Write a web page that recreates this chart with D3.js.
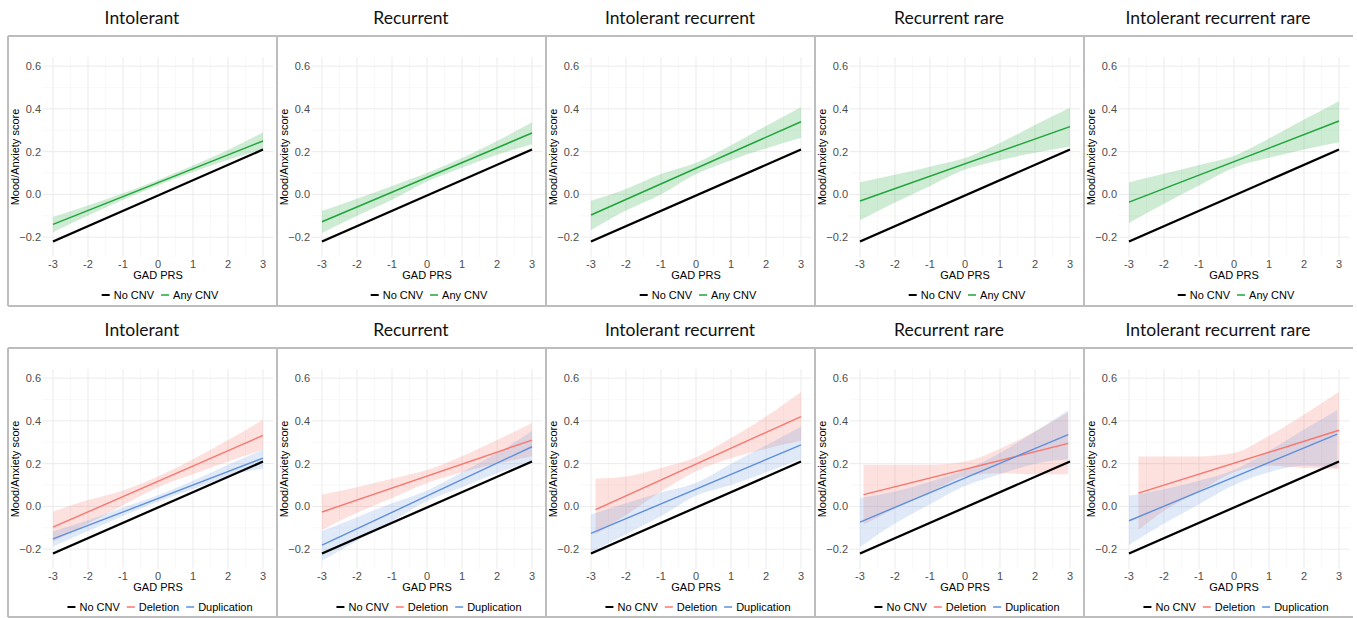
<!DOCTYPE html>
<html>
<head>
<meta charset="utf-8">
<script src="https://cdn.jsdelivr.net/npm/d3@7"></script>
<style>
  body { margin: 0; background: #fff; }
  svg { display: block; }
</style>
</head>
<body>
<div id="chart"></div>
<script>
(function() {
    'use strict';

    // panel titles and axis ticks
    const panelTitles = ["Intolerant", "Recurrent", "Intolerant recurrent", "Recurrent rare", "Intolerant recurrent rare"];
    const xTicks = [-3, -2, -1, 0, 1, 2, 3];
    const yTicks = [-0.2, 0.0, 0.2, 0.4, 0.6];
    const xMinor = [-2.5, -1.5, -0.5, 0.5, 1.5, 2.5];
    const yMinor = [-0.1, 0.1, 0.3, 0.5];

    // No CNV reference line (same in every panel)
    const noCnvX = [-3, 3];
    const noCnvFit = [-0.22, 0.21];
    const noCnvLo = [-0.226, 0.204];
    const noCnvHi = [-0.214, 0.216];

    // x positions where the ribbons were read
    const bandX = [-3, -2, -1, 0, 1, 2, 3];

    // top row: Any CNV
    const anyFit = [[-0.14, 0.25], [-0.128, 0.287], [-0.096, 0.34], [-0.031, 0.317], [-0.036, 0.343]];
    const anyLo = [
        [-0.177, -0.098, -0.025, 0.042, 0.105, 0.162, 0.21],
        [-0.18, -0.10, -0.025, 0.06, 0.125, 0.185, 0.235],
        [-0.166, -0.075, 0.0, 0.095, 0.16, 0.215, 0.265],
        [-0.121, -0.038, 0.04, 0.116, 0.16, 0.195, 0.223],
        [-0.134, -0.043, 0.042, 0.125, 0.171, 0.21, 0.244]
    ];
    const anyHi = [
        [-0.105, -0.052, 0.005, 0.068, 0.135, 0.208, 0.29],
        [-0.078, -0.02, 0.04, 0.10, 0.17, 0.25, 0.338],
        [-0.03, 0.025, 0.095, 0.148, 0.23, 0.32, 0.407],
        [0.057, 0.092, 0.13, 0.17, 0.24, 0.325, 0.405],
        [0.057, 0.097, 0.138, 0.18, 0.261, 0.35, 0.436]
    ];

    // bottom row: Deletion
    const delX = [
        [-3, -2, -1, 0, 1, 2, 3],
        [-3, -2, -1, 0, 1, 2, 3],
        [-2.87, -2, -1, 0, 1, 2, 3],
        [-2.9, -2, -1, 0, 1, 2, 2.95],
        [-2.73, -2, -1, 0, 1, 2, 3]
    ];
    const delFit = [[-0.097, 0.332], [-0.026, 0.31], [-0.015, 0.42], [0.055, 0.295], [0.062, 0.356]];
    const delLo = [
        [-0.164, -0.08, 0.005, 0.09, 0.15, 0.21, 0.265],
        [-0.11, -0.03, 0.04, 0.11, 0.16, 0.2, 0.235],
        [-0.13, -0.04, 0.07, 0.165, 0.225, 0.27, 0.308],
        [-0.086, -0.01, 0.065, 0.14, 0.155, 0.15, 0.15],
        [-0.11, -0.02, 0.07, 0.16, 0.19, 0.18, 0.175]
    ];
    const delHi = [
        [-0.024, 0.03, 0.075, 0.14, 0.22, 0.31, 0.405],
        [0.056, 0.09, 0.13, 0.17, 0.235, 0.31, 0.39],
        [0.13, 0.14, 0.18, 0.23, 0.32, 0.42, 0.535],
        [0.195, 0.195, 0.195, 0.21, 0.27, 0.35, 0.44],
        [0.234, 0.234, 0.234, 0.25, 0.33, 0.43, 0.536]
    ];

    // bottom row: Duplication
    const dupX = [
        [-3, -2, -1, 0, 1, 2, 3],
        [-3, -2, -1, 0, 1, 2, 3],
        [-3, -2, -1, 0, 1, 2, 3],
        [-3, -2, -1, 0, 1, 2, 2.95],
        [-3, -2, -1, 0, 1, 2, 2.95]
    ];
    const dupFit = [[-0.152, 0.226], [-0.181, 0.279], [-0.126, 0.288], [-0.073, 0.336], [-0.067, 0.338]];
    const dupLo = [
        [-0.187, -0.115, -0.045, 0.022, 0.08, 0.14, 0.179],
        [-0.254, -0.16, -0.07, 0.025, 0.09, 0.155, 0.212],
        [-0.215, -0.13, -0.045, 0.05, 0.1, 0.16, 0.22],
        [-0.19, -0.08, 0.01, 0.095, 0.15, 0.2, 0.22],
        [-0.18, -0.08, 0.01, 0.1, 0.16, 0.19, 0.18]
    ];
    const dupHi = [
        [-0.117, -0.065, -0.005, 0.052, 0.12, 0.195, 0.265],
        [-0.115, -0.05, 0.015, 0.075, 0.16, 0.25, 0.351],
        [-0.038, 0.015, 0.065, 0.11, 0.2, 0.285, 0.372],
        [0.04, 0.07, 0.115, 0.17, 0.25, 0.35, 0.45],
        [0.05, 0.08, 0.12, 0.17, 0.26, 0.36, 0.45]
    ];

    const colors = { none: "#000000", any: "#1fa53a", del: "#f8766d", dup: "#5f8fdc" };

    const W = 1357, H = 618;
    const svg = d3.select("#chart").append("svg")
        .attr("width", W).attr("height", H);
    svg.append("rect").attr("width", W).attr("height", H).attr("fill", "#fff");

    const rows = [
        { boxTop: 36, boxBottom: 306, titleY: 24 },
        { boxTop: 348, boxBottom: 617, titleY: 336 }
    ];
    const panelW = 269, firstLeft = 8;
    const axisFont = "'Liberation Sans', Arial, sans-serif";

    function drawPanel(row, col, series, legendItems) {
        const r = rows[row];
        const left = firstLeft + panelW * col;
        const g = svg.append("g");

        // title
        svg.append("text")
            .attr("x", left + 134).attr("y", r.titleY)
            .attr("text-anchor", "middle")
            .style("font-family", "Lato, 'Open Sans', sans-serif")
            .style("font-size", "17.5px")
            .attr("fill", "#111")
            .text(panelTitles[col]);

        // box border (top, bottom, left)
        const border = "#bdbdbd";
        g.append("line").attr("x1", left).attr("x2", left + panelW).attr("y1", r.boxTop).attr("y2", r.boxTop)
            .attr("stroke", border).attr("stroke-width", 2);
        g.append("line").attr("x1", left).attr("x2", left + panelW).attr("y1", r.boxBottom).attr("y2", r.boxBottom)
            .attr("stroke", border).attr("stroke-width", 2);
        g.append("line").attr("x1", left).attr("x2", left).attr("y1", r.boxTop).attr("y2", r.boxBottom)
            .attr("stroke", border).attr("stroke-width", 2);

        const top = r.boxTop + 21, bottom = top + 200;
        const x = d3.scaleLinear().domain([-3.3, 3.3]).range([left + 34.5, left + 265.5]);
        const y = d3.scaleLinear().domain([-0.2925, 0.6425]).range([bottom, top]);

        // grid
        g.selectAll(null).data(yMinor).enter().append("line")
            .attr("x1", x(-3.3)).attr("x2", x(3.3)).attr("y1", d => y(d)).attr("y2", d => y(d))
            .attr("stroke", "#f3f3f3").attr("stroke-width", 0.6);
        g.selectAll(null).data(xMinor).enter().append("line")
            .attr("y1", top).attr("y2", bottom).attr("x1", d => x(d)).attr("x2", d => x(d))
            .attr("stroke", "#f3f3f3").attr("stroke-width", 0.6);
        g.selectAll(null).data(yTicks).enter().append("line")
            .attr("x1", x(-3.3)).attr("x2", x(3.3)).attr("y1", d => y(d)).attr("y2", d => y(d))
            .attr("stroke", "#ebebeb").attr("stroke-width", 1);
        g.selectAll(null).data(xTicks).enter().append("line")
            .attr("y1", top).attr("y2", bottom).attr("x1", d => x(d)).attr("x2", d => x(d))
            .attr("stroke", "#ebebeb").attr("stroke-width", 1);

        // tick labels
        g.selectAll(null).data(yTicks).enter().append("text")
            .attr("x", left + 33).attr("y", d => y(d)).attr("dy", "0.35em")
            .attr("text-anchor", "end")
            .style("font-family", axisFont).style("font-size", "11px")
            .attr("fill", "#4d4d4d")
            .text(d => d3.format(".1f")(d));
        g.selectAll(null).data(xTicks).enter().append("text")
            .attr("x", d => x(d)).attr("y", bottom + 11)
            .attr("text-anchor", "middle")
            .style("font-family", axisFont).style("font-size", "11px")
            .attr("fill", "#4d4d4d")
            .text(d => d);

        // axis titles
        g.append("text")
            .attr("x", left + 150).attr("y", bottom + 22)
            .attr("text-anchor", "middle")
            .style("font-family", axisFont).style("font-size", "11px")
            .attr("fill", "#000")
            .text("GAD PRS");
        g.append("text")
            .attr("transform", `translate(${left + 11},${(top + bottom) / 2}) rotate(-90)`)
            .attr("text-anchor", "middle")
            .style("font-family", axisFont).style("font-size", "11px")
            .attr("fill", "#000")
            .text("Mood/Anxiety score");

        // ribbons then lines
        const area = d3.area().x(d => x(d.x)).y0(d => y(d.lo)).y1(d => y(d.hi)).curve(d3.curveMonotoneX);
        const line = d3.line().x(d => x(d.x)).y(d => y(d.y));

        series.forEach(s => {
            const band = s.xs.map((v, i) => ({ x: v, lo: s.lo[i], hi: s.hi[i] }));
            g.append("path").attr("d", area(band))
                .attr("fill", s.fill || s.color).attr("fill-opacity", s.alpha);
        });
        series.forEach(s => {
            const pts = [
                { x: s.xs[0], y: s.fit[0] },
                { x: s.xs[s.xs.length - 1], y: s.fit[1] }
            ];
            g.append("path").attr("d", line(pts))
                .attr("fill", "none").attr("stroke", s.color).attr("stroke-width", s.width);
        });

        // legend
        const lg = g.append("g");
        let cx = 0;
        legendItems.forEach(it => {
            lg.append("line").attr("x1", cx).attr("x2", cx + 8).attr("y1", 0).attr("y2", 0)
                .attr("stroke", it.color).attr("stroke-width", it.color === "#000000" ? 2 : 1.5);
            const t = lg.append("text").attr("x", cx + 12).attr("y", 0).attr("dy", "0.35em")
                .style("font-family", axisFont).style("font-size", "11px")
                .attr("fill", "#000").text(it.label);
            cx += 12 + t.node().getComputedTextLength() + 7;
        });
        const lw = cx - 7;
        lg.attr("transform", `translate(${left + 152 - lw / 2},${bottom + 38})`);
    }

    for (let c = 0; c < 5; c++) {
        drawPanel(0, c, [
            { xs: noCnvX, fit: noCnvFit, lo: noCnvLo, hi: noCnvHi, color: colors.none, fill: "#777", alpha: 0.3, width: 2.2 },
            { xs: bandX, fit: anyFit[c], lo: anyLo[c], hi: anyHi[c], color: colors.any, alpha: 0.22, width: 1.5 }
        ], [
            { label: "No CNV", color: colors.none },
            { label: "Any CNV", color: colors.any }
        ]);
        drawPanel(1, c, [
            { xs: noCnvX, fit: noCnvFit, lo: noCnvLo, hi: noCnvHi, color: colors.none, fill: "#777", alpha: 0.3, width: 2.2 },
            { xs: delX[c], fit: delFit[c], lo: delLo[c], hi: delHi[c], color: colors.del, alpha: 0.22, width: 1.4 },
            { xs: dupX[c], fit: dupFit[c], lo: dupLo[c], hi: dupHi[c], color: colors.dup, alpha: 0.2, width: 1.4 }
        ], [
            { label: "No CNV", color: colors.none },
            { label: "Deletion", color: colors.del },
            { label: "Duplication", color: colors.dup }
        ]);
    }
})();
</script>
</body>
</html>
